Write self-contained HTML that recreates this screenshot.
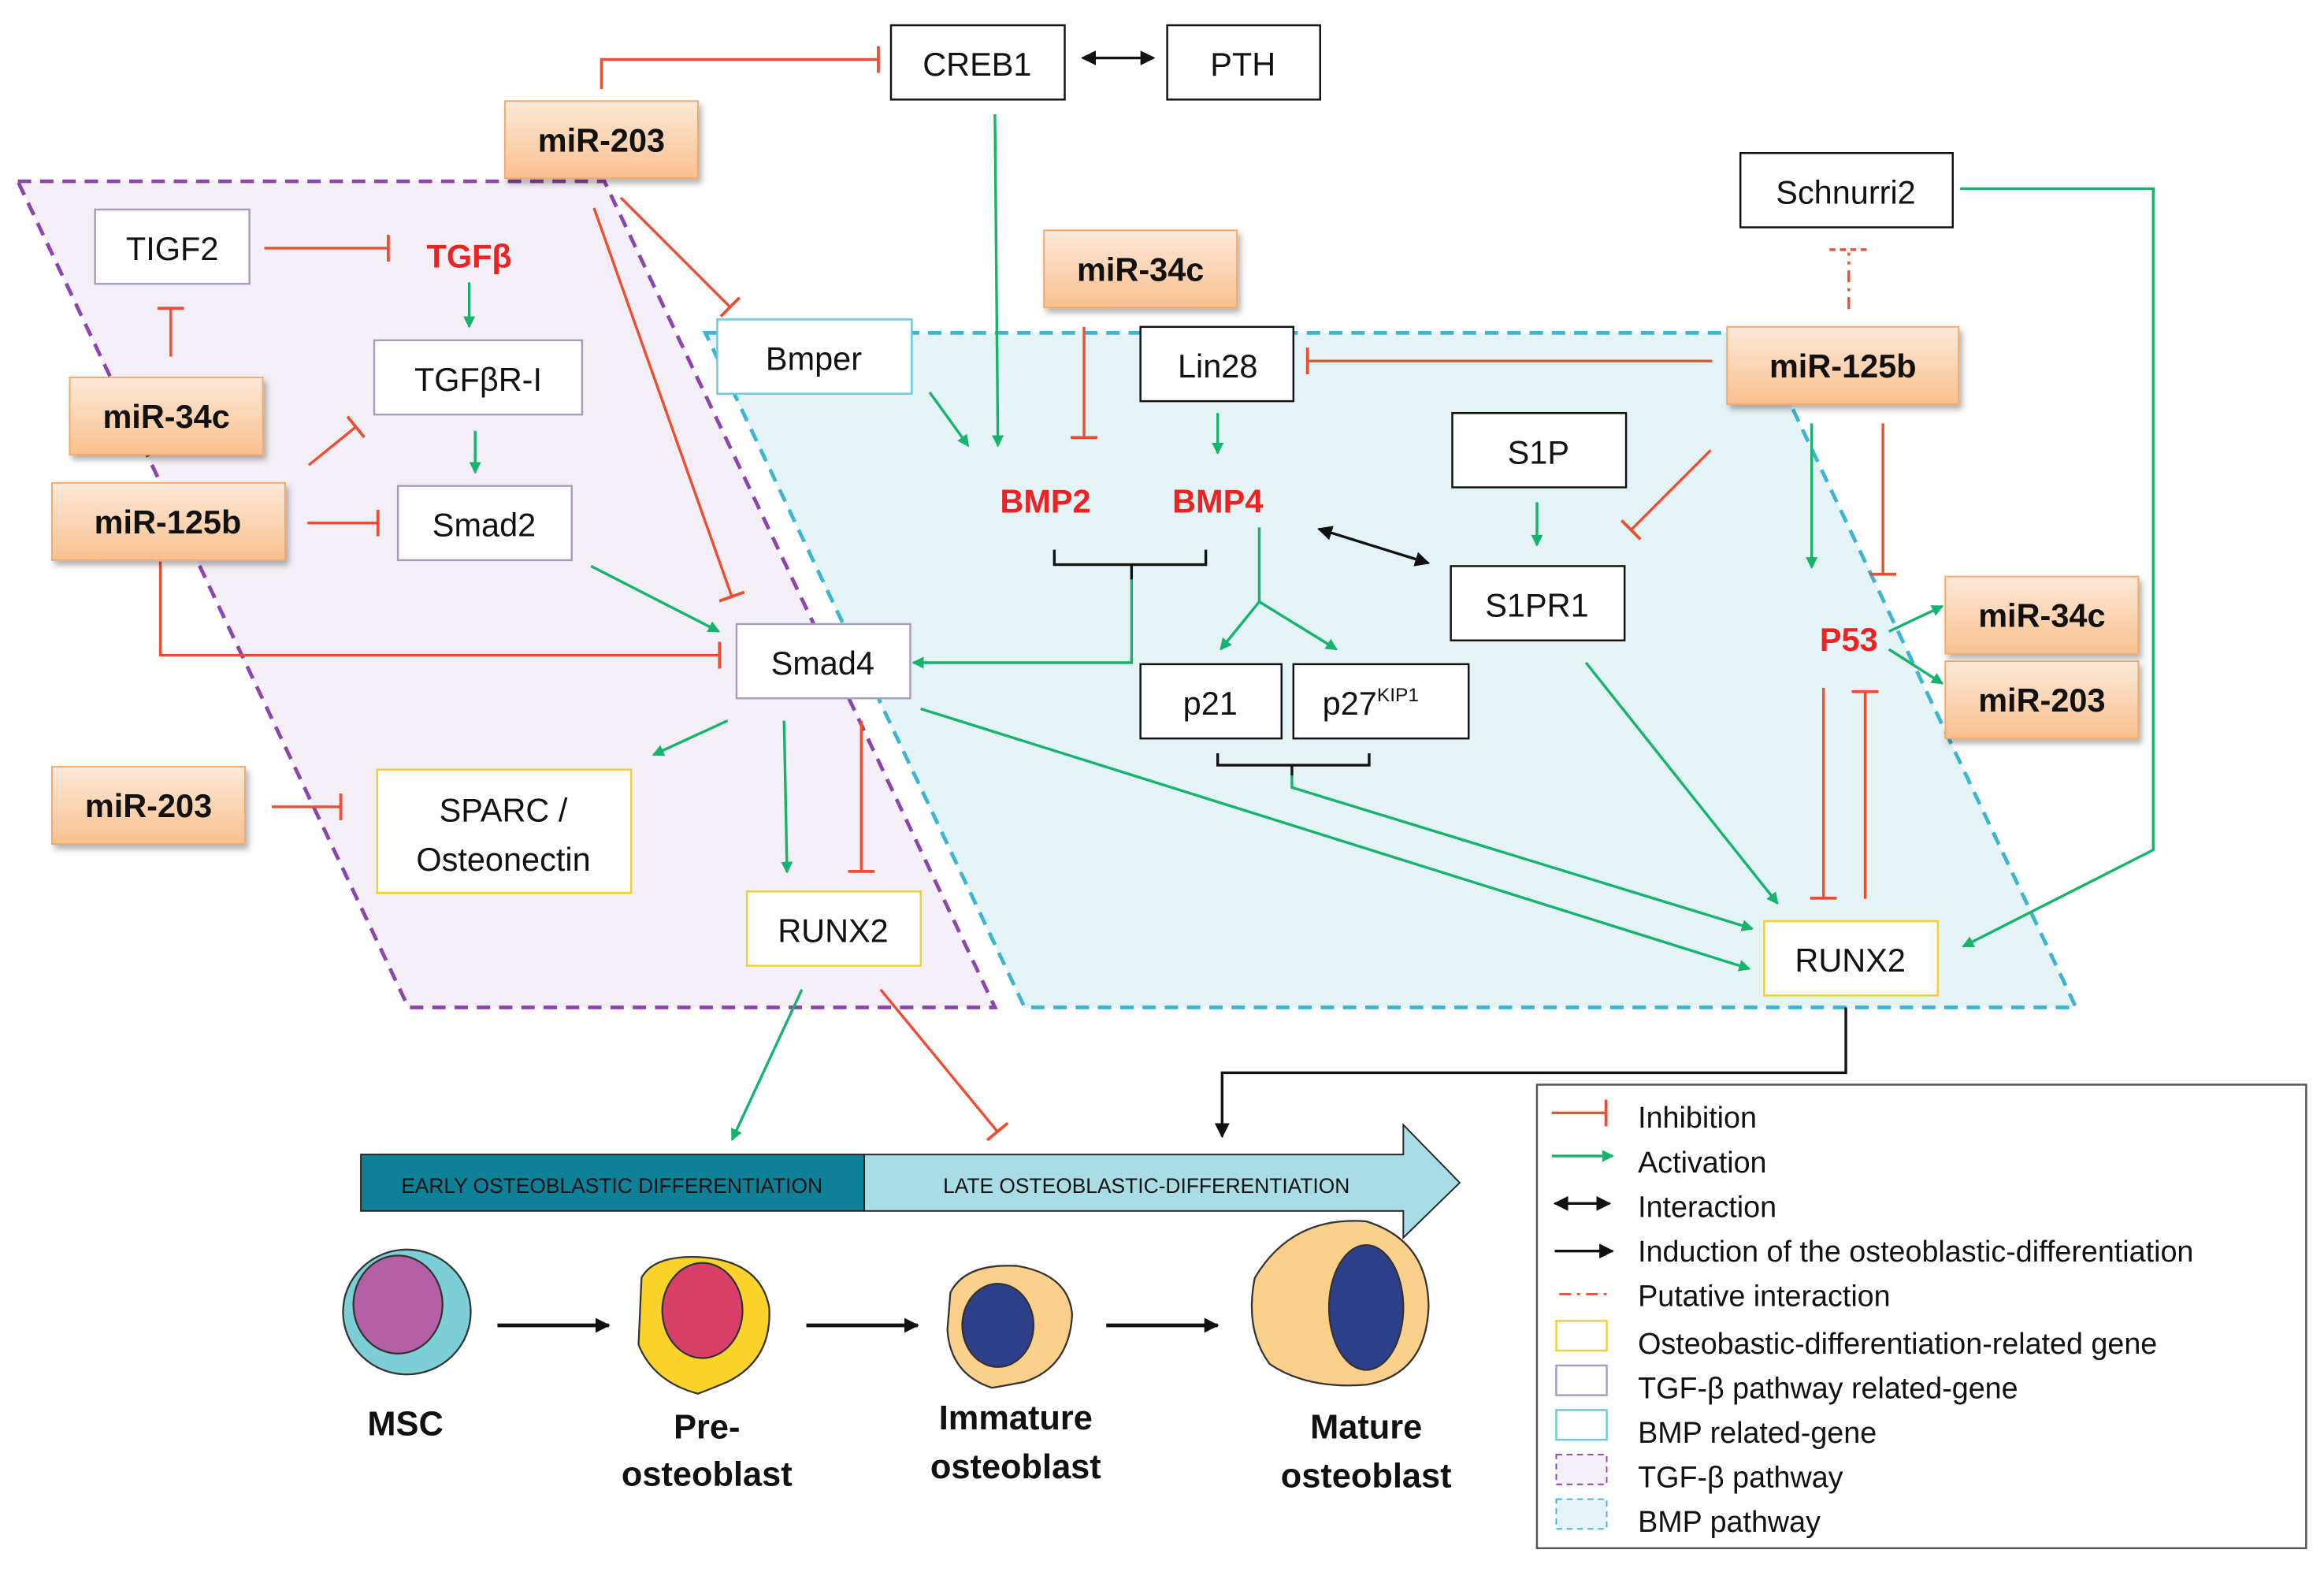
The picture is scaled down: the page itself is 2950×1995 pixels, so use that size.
<!DOCTYPE html>
<html><head><meta charset="utf-8"><style>
html,body{margin:0;padding:0;background:#fff;width:2950px;height:1995px;overflow:hidden}
svg{display:block}
text{font-family:"Liberation Sans",sans-serif}
</style></head><body>
<svg width="2950" height="1995" viewBox="0 0 1565 1058" preserveAspectRatio="none" xmlns="http://www.w3.org/2000/svg">
<defs>
<linearGradient id="og" x1="0" y1="0" x2="0" y2="1"><stop offset="0" stop-color="#fde9d8"/><stop offset="1" stop-color="#f9c08f"/></linearGradient>
<marker id="ga" markerWidth="8" markerHeight="8" refX="7" refY="4" orient="auto" markerUnits="userSpaceOnUse"><path d="M0,0 L8,4 L0,8 z" fill="#16b36c"/></marker>
<marker id="ka" markerWidth="10" markerHeight="10" refX="9" refY="5" orient="auto" markerUnits="userSpaceOnUse"><path d="M0,0 L10,5 L0,10 z" fill="#111"/></marker>
<marker id="ks" markerWidth="10" markerHeight="10" refX="1" refY="5" orient="auto" markerUnits="userSpaceOnUse"><path d="M10,0 L0,5 L10,10 z" fill="#111"/></marker>
<marker id="rt" markerWidth="4" markerHeight="18" refX="2" refY="9" orient="auto" markerUnits="userSpaceOnUse"><rect x="0.5" y="0" width="2" height="18" fill="#ee4d32"/></marker>
<filter id="sh"><feDropShadow dx="2" dy="3" stdDeviation="2" flood-color="#000" flood-opacity="0.3"/></filter>
</defs>

<polygon points="12,122 407,122 670,678 275,678" fill="#f4eff6" stroke="#8e44ad" stroke-width="2.5" stroke-dasharray="9,6"/>
<polygon points="475,224 1183,224 1398,678 690,678" fill="#e3f3f6" stroke="#3bb5d0" stroke-width="2.5" stroke-dasharray="9,6"/>

<g fill="none" stroke-width="1.8">
<g stroke="#ee4d32">
<polyline points="405,60 405,40 592,40" marker-end="url(#rt)"/>
<line x1="418" y1="133" x2="492" y2="207" marker-end="url(#rt)"/>
<line x1="400" y1="140" x2="493" y2="402" marker-end="url(#rt)"/>
<line x1="178" y1="167" x2="262" y2="167" marker-end="url(#rt)"/>
<line x1="115" y1="240" x2="115" y2="207" marker-end="url(#rt)"/>
<line x1="208" y1="313" x2="240" y2="287" marker-end="url(#rt)"/>
<line x1="207" y1="352" x2="255" y2="352" marker-end="url(#rt)"/>
<polyline points="108,378 108,441 485,441" marker-end="url(#rt)"/>
<line x1="730" y1="220" x2="730" y2="295" marker-end="url(#rt)"/>
<line x1="1153" y1="243" x2="880" y2="243" marker-end="url(#rt)"/>
<line x1="1152" y1="303" x2="1098" y2="357" marker-end="url(#rt)"/>
<line x1="1268" y1="285" x2="1268" y2="387" marker-end="url(#rt)"/>
<line x1="1228" y1="463" x2="1228" y2="605" marker-end="url(#rt)"/>
<line x1="1256" y1="605" x2="1256" y2="465" marker-end="url(#rt)"/>
<line x1="580" y1="485" x2="580" y2="587" marker-end="url(#rt)"/>
<line x1="183" y1="543" x2="230" y2="543" marker-end="url(#rt)"/>
<line x1="593" y1="666" x2="672" y2="762" marker-end="url(#rt)"/>
<line x1="1245" y1="208" x2="1245" y2="170" stroke-dasharray="8,4,2,4"/>
<line x1="1232" y1="168" x2="1258" y2="168" stroke-dasharray="4,3"/>
</g>
<g stroke="#16b36c">
<line x1="670" y1="77" x2="672" y2="300" marker-end="url(#ga)"/>
<line x1="316" y1="190" x2="316" y2="220" marker-end="url(#ga)"/>
<line x1="320" y1="290" x2="320" y2="318" marker-end="url(#ga)"/>
<line x1="398" y1="381" x2="484" y2="425" marker-end="url(#ga)"/>
<line x1="626" y1="264" x2="652" y2="300" marker-end="url(#ga)"/>
<line x1="820" y1="278" x2="820" y2="305" marker-end="url(#ga)"/>
<line x1="1035" y1="338" x2="1035" y2="367" marker-end="url(#ga)"/>
<line x1="1220" y1="285" x2="1220" y2="382" marker-end="url(#ga)"/>
<polyline points="762,390 762,446 615,446" marker-end="url(#ga)"/>
<polyline points="848,355 848,405 822,437" marker-end="url(#ga)"/>
<line x1="848" y1="405" x2="900" y2="437" marker-end="url(#ga)"/>
<polyline points="870,522 870,530 1180,625" marker-end="url(#ga)"/>
<line x1="620" y1="477" x2="1178" y2="652" marker-end="url(#ga)"/>
<line x1="1068" y1="446" x2="1197" y2="608" marker-end="url(#ga)"/>
<polyline points="1320,127 1450,127 1450,572 1322,637" marker-end="url(#ga)"/>
<line x1="1272" y1="425" x2="1308" y2="408" marker-end="url(#ga)"/>
<line x1="1272" y1="437" x2="1308" y2="460" marker-end="url(#ga)"/>
<line x1="490" y1="485" x2="440" y2="508" marker-end="url(#ga)"/>
<line x1="528" y1="485" x2="530" y2="587" marker-end="url(#ga)"/>
<line x1="540" y1="666" x2="493" y2="767" marker-end="url(#ga)"/>
</g>
<g stroke="#111">
<line x1="729" y1="39" x2="777" y2="39" marker-end="url(#ka)" marker-start="url(#ks)"/>
<line x1="888" y1="356" x2="962" y2="379" marker-end="url(#ka)" marker-start="url(#ks)"/>
<polyline points="710,370 710,380 812,380 812,370"/>
<line x1="762" y1="380" x2="762" y2="390"/>
<polyline points="820,507 820,515 922,515 922,507"/>
<line x1="870" y1="515" x2="870" y2="522"/>
<polyline points="1243,678 1243,722 823,722 823,765" marker-end="url(#ka)"/>
<line x1="335" y1="892" x2="410" y2="892" stroke-width="2.5" marker-end="url(#ka)"/>
<line x1="543" y1="892" x2="618" y2="892" stroke-width="2.5" marker-end="url(#ka)"/>
<line x1="745" y1="892" x2="820" y2="892" stroke-width="2.5" marker-end="url(#ka)"/>
</g>
</g>

<g font-size="22" text-anchor="middle" fill="#111">
<g stroke-width="1.3" fill="#fff">
<rect x="600" y="17" width="117" height="50" stroke="#111"/>
<rect x="786" y="17" width="103" height="50" stroke="#111"/>
<rect x="64" y="141" width="104" height="50" stroke="#a99bc0"/>
<rect x="252" y="229" width="140" height="50" stroke="#a99bc0"/>
<rect x="268" y="327" width="117" height="50" stroke="#a99bc0"/>
<rect x="483" y="215" width="131" height="50" stroke="#6cc8dc"/>
<rect x="768" y="220" width="103" height="50" stroke="#111"/>
<rect x="1172" y="103" width="143" height="50" stroke="#111"/>
<rect x="978" y="278" width="117" height="50" stroke="#111"/>
<rect x="977" y="381" width="117" height="50" stroke="#111"/>
<rect x="496" y="420" width="117" height="50" stroke="#a99bc0"/>
<rect x="768" y="447" width="95" height="50" stroke="#111"/>
<rect x="871" y="447" width="118" height="50" stroke="#111"/>
<rect x="254" y="518" width="171" height="83" stroke="#f0d030"/>
<rect x="503" y="600" width="117" height="50" stroke="#f0d030"/>
<rect x="1188" y="620" width="117" height="50" stroke="#f0d030"/>
</g>
<text x="658" y="51">CREB1</text><text x="837" y="51">PTH</text>
<text x="116" y="175">TIGF2</text><text x="322" y="263">TGFβR-I</text>
<text x="326" y="361">Smad2</text><text x="548" y="249">Bmper</text>
<text x="820" y="254">Lin28</text><text x="1243" y="137">Schnurri2</text>
<text x="1036" y="312">S1P</text><text x="1035" y="415">S1PR1</text>
<text x="554" y="454">Smad4</text><text x="815" y="481">p21</text>
<text x="923" y="481">p27<tspan font-size="13" dy="-9">KIP1</tspan></text>
<text x="339" y="553">SPARC /</text><text x="339" y="586">Osteonectin</text>
<text x="561" y="634">RUNX2</text><text x="1246" y="654">RUNX2</text>
<g font-weight="bold" fill="#ee2222">
<text x="316" y="180">TGFβ</text><text x="704" y="345">BMP2</text><text x="820" y="345">BMP4</text><text x="1245" y="438">P53</text>
</g>
<g filter="url(#sh)" fill="url(#og)" stroke="#f3a86a" stroke-width="1">
<rect x="340" y="68" width="130" height="52"/><rect x="47" y="254" width="130" height="52"/>
<rect x="35" y="325" width="157" height="52"/><rect x="703" y="155" width="130" height="52"/>
<rect x="1163" y="220" width="156" height="52"/><rect x="1310" y="388" width="130" height="52"/>
<rect x="1310" y="445" width="130" height="52"/><rect x="35" y="516" width="130" height="52"/>
</g>
<g font-weight="bold">
<text x="405" y="102">miR-203</text><text x="112" y="288">miR-34c</text>
<text x="113" y="359">miR-125b</text><text x="768" y="189">miR-34c</text>
<text x="1241" y="254">miR-125b</text><text x="1375" y="422">miR-34c</text>
<text x="1375" y="479">miR-203</text><text x="100" y="550">miR-203</text>
</g>
</g>

<polygon points="582,777 945,777 945,757 983,796 945,833 945,815 582,815" fill="#a8dde6" stroke="#222" stroke-width="1"/>
<rect x="243" y="777" width="339" height="38" fill="#0e8098" stroke="#222" stroke-width="1"/>
<text x="412" y="803" font-size="14" text-anchor="middle" fill="#111">EARLY OSTEOBLASTIC DIFFERENTIATION</text>
<text x="772" y="803" font-size="14" text-anchor="middle" fill="#111">LATE OSTEOBLASTIC-DIFFERENTIATION</text>

<g stroke="#333" stroke-width="1.2">
<ellipse cx="274" cy="883" rx="43" ry="42" fill="#7ccfd6"/>
<ellipse cx="268" cy="878" rx="30" ry="33" fill="#b55fa6"/>
<path d="M432,860 Q440,845 470,846 Q512,848 518,880 Q520,915 490,930 Q478,935 470,938 Q440,930 430,905 Z" fill="#fbd32a"/>
<ellipse cx="473" cy="882" rx="27" ry="32" fill="#d8406a"/>
<path d="M640,870 Q650,850 685,852 Q720,858 722,885 Q720,920 690,930 Q680,932 668,934 Q640,925 638,895 Z" fill="#fbd08a"/>
<ellipse cx="672" cy="892" rx="24" ry="28" fill="#2e3f8c"/>
<path d="M845,860 Q870,818 920,822 Q962,835 962,880 Q960,925 920,932 Q880,935 855,918 Q838,895 845,860 Z" fill="#fbd08a"/>
<ellipse cx="920" cy="880" rx="25" ry="42" fill="#2e3f8c"/>
</g>
<g font-size="23" font-weight="bold" text-anchor="middle" fill="#111">
<text x="273" y="966">MSC</text>
<text x="476" y="968">Pre-</text><text x="476" y="1000">osteoblast</text>
<text x="684" y="962">Immature</text><text x="684" y="995">osteoblast</text>
<text x="920" y="968">Mature</text><text x="920" y="1001">osteoblast</text>
</g>

<rect x="1035" y="730" width="518" height="312" fill="#fff" stroke="#555" stroke-width="1.3"/>
<g font-size="20" fill="#111">
<line x1="1045" y1="749" x2="1082" y2="749" stroke="#ee4d32" stroke-width="1.8" marker-end="url(#rt)"/>
<line x1="1045" y1="778" x2="1086" y2="778" stroke="#16b36c" stroke-width="1.8" marker-end="url(#ga)"/>
<line x1="1047" y1="810" x2="1084" y2="810" stroke="#111" stroke-width="1.8" marker-end="url(#ka)" marker-start="url(#ks)"/>
<line x1="1047" y1="842" x2="1086" y2="842" stroke="#111" stroke-width="1.8" marker-end="url(#ka)"/>
<line x1="1050" y1="871" x2="1082" y2="871" stroke="#ee4d32" stroke-width="1.5" stroke-dasharray="8,4,2,4"/>
<rect x="1048" y="889" width="34" height="20" fill="#fff" stroke="#f0d030" stroke-width="1.3"/>
<rect x="1048" y="919" width="34" height="20" fill="#fff" stroke="#a99bc0" stroke-width="1.3"/>
<rect x="1048" y="949" width="34" height="20" fill="#fff" stroke="#6cc8dc" stroke-width="1.3"/>
<rect x="1048" y="979" width="34" height="20" fill="#f4eff6" stroke="#8e44ad" stroke-width="1" stroke-dasharray="4,3"/>
<rect x="1048" y="1009" width="34" height="20" fill="#e3f3f6" stroke="#3bb5d0" stroke-width="1" stroke-dasharray="4,3"/>
<text x="1103" y="759">Inhibition</text>
<text x="1103" y="789">Activation</text>
<text x="1103" y="819">Interaction</text>
<text x="1103" y="849">Induction of the osteoblastic-differentiation</text>
<text x="1103" y="879">Putative interaction</text>
<text x="1103" y="911">Osteobastic-differentiation-related gene</text>
<text x="1103" y="941">TGF-β pathway related-gene</text>
<text x="1103" y="971">BMP related-gene</text>
<text x="1103" y="1001">TGF-β pathway</text>
<text x="1103" y="1031">BMP pathway</text>
</g>
</svg>
</body></html>
